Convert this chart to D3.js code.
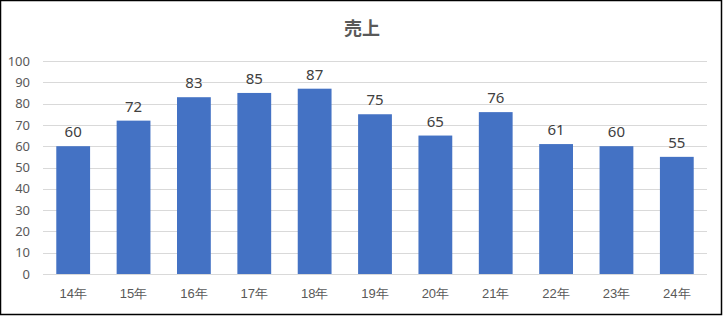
<!DOCTYPE html>
<html>
<head>
<meta charset="utf-8">
<script src="https://cdn.jsdelivr.net/npm/d3@7"></script>
<style>
  body { margin: 0; background: #fff; }
  svg { display: block; font-family: "Noto Sans CJK JP", "Noto Sans", sans-serif; }
</style>
</head>
<body>
<div class="chart"></div>
<script>
const years = ['14年', '15年', '16年', '17年', '18年', '19年', '20年', '21年', '22年', '23年', '24年'];
const sales = [60, 72, 83, 85, 87, 75, 65, 76, 61, 60, 55];
const yTicks = [0, 10, 20, 30, 40, 50, 60, 70, 80, 90, 100];

const width = 723, height = 316;
const plotLeft = 43, plotRight = 707, plotTop = 61, plotBottom = 274;

const svg = d3.select('.chart')
    .append('svg')
    .attr('width', width)
    .attr('height', height);

// outer frame
svg.append('rect')
    .attr('x', 0.5)
    .attr('y', 0.5)
    .attr('width', width - 2)
    .attr('height', height - 2)
    .attr('fill', '#fff')
    .attr('stroke', '#000')
    .attr('stroke-width', 1.5);

const x = d3.scaleBand()
    .domain(years)
    .range([plotLeft, plotRight])
    .paddingInner(0.44)
    .paddingOuter(0.22);

const y = d3.scaleLinear()
    .domain([0, 100])
    .range([plotBottom, plotTop]);

// gridlines
svg.append('g')
    .selectAll('line')
    .data(yTicks)
    .join('line')
    .attr('x1', plotLeft)
    .attr('x2', plotRight)
    .attr('y1', d => Math.round(y(d)) + 0.5)
    .attr('y2', d => Math.round(y(d)) + 0.5)
    .attr('stroke', '#d9d9d9')
    .attr('stroke-width', 1);

// y axis labels
const yAxis = svg.append('g')
    .attr('transform', `translate(${plotLeft - 13},0)`)
    .call(d3.axisLeft(y).tickValues(yTicks).tickSize(0).tickPadding(0));
yAxis.select('.domain').remove();
yAxis.selectAll('text')
    .style('font-size', '13px')
    .style('font-family', '"Noto Sans", sans-serif')
    .attr('fill', '#595959');

// x axis labels
const xAxis = svg.append('g')
    .attr('transform', `translate(0,${plotBottom})`)
    .call(d3.axisBottom(x).tickSize(0).tickPadding(15));
xAxis.select('.domain').remove();
xAxis.selectAll('text')
    .style('font-size', '13px')
    .attr('fill', '#595959');

// bars
svg.append('g')
    .selectAll('rect')
    .data(sales)
    .join('rect')
    .attr('x', (d, i) => x(years[i]))
    .attr('y', d => y(d))
    .attr('width', x.bandwidth())
    .attr('height', d => y(0) - y(d))
    .attr('fill', '#4472c4');

// value labels
svg.append('g')
    .selectAll('text')
    .data(sales)
    .join('text')
    .attr('x', (d, i) => x(years[i]) + x.bandwidth() / 2)
    .attr('y', d => y(d) - 9)
    .attr('text-anchor', 'middle')
    .style('font-size', '15px')
    .style('font-family', '"Noto Sans", sans-serif')
    .attr('fill', '#404040')
    .text(d => d);

// title
svg.append('text')
    .attr('x', 362)
    .attr('y', 35)
    .attr('text-anchor', 'middle')
    .style('font-size', '18px')
    .style('font-weight', 'bold')
    .attr('fill', '#595959')
    .text('売上');
</script>
</body>
</html>
